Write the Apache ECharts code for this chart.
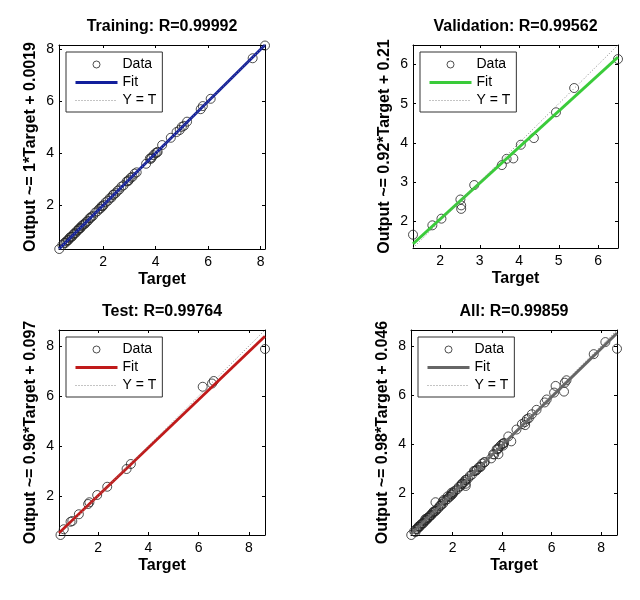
<!DOCTYPE html>
<html>
<head>
<meta charset="utf-8">
<script src="https://cdn.jsdelivr.net/npm/echarts@6/dist/echarts.min.js"></script>
<style>
html,body{margin:0;padding:0;background:#fff;}
#chart{width:640px;height:600px;}
</style>
</head>
<body>
<div id="chart"></div>
<script>
// ---------- data ----------
const trainTarget = [0.33,0.45,0.52,0.57,0.60,0.65,0.68,0.72,0.75,0.80,0.82,0.87,0.90,0.95,1.00,1.05,1.08,1.10,1.15,1.18,1.22,1.28,1.32,1.35,1.42,1.48,1.52,1.55,1.62,1.70,1.78,1.85,1.90,1.95,1.98,2.02,2.10,2.18,2.25,2.32,2.38,2.40,2.48,2.55,2.62,2.70,2.78,2.90,2.95,2.98,3.05,3.12,3.20,3.28,3.64,3.78,3.82,3.85,3.92,4.00,4.05,4.08,4.25,4.58,4.80,4.92,5.00,5.08,5.20,5.72,5.80,6.10,7.70,8.17];
const trainOutput = [0.32,0.47,0.55,0.56,0.62,0.66,0.66,0.74,0.78,0.79,0.80,0.88,0.92,0.93,1.02,1.04,1.09,1.12,1.13,1.20,1.24,1.27,1.30,1.36,1.40,1.50,1.51,1.56,1.60,1.72,1.77,1.86,1.88,1.97,1.96,2.01,2.12,2.17,2.27,2.30,2.40,2.42,2.47,2.56,2.61,2.72,2.77,2.92,2.93,2.97,3.06,3.10,3.22,3.27,3.60,3.80,3.79,3.84,3.93,4.01,4.03,4.06,4.32,4.60,4.82,4.90,5.02,5.06,5.22,5.70,5.82,6.10,7.66,8.15];

const valTarget = [1.31,1.80,2.03,2.51,2.53,2.53,2.86,3.56,3.68,3.85,4.04,4.37,4.93,5.39,6.50];
const valOutput = [1.65,1.89,2.06,2.55,2.40,2.31,2.92,3.43,3.59,3.60,3.95,4.12,4.78,5.40,6.14];

const testTarget = [0.50,0.63,0.90,0.97,1.23,1.60,1.65,1.96,2.36,3.13,3.30,6.16,6.53,6.60,8.64];
const testOutput = [0.44,0.67,0.97,1.00,1.27,1.68,1.75,2.04,2.37,3.08,3.28,6.37,6.50,6.60,7.88];

const allTarget = trainTarget.concat(valTarget, testTarget);
const allOutput = trainOutput.concat(valOutput, testOutput);

// axis limits [min, max]
const trainLim = [0.32, 8.17];
const valLim = [1.31, 6.50];
const testLim = [0.44, 8.64];
const allLim = [0.32, 8.64];

// regression fit [slope, intercept]
const trainFit = [1, 0.0019];
const valFit = [0.92, 0.21];
const testFit = [0.96, 0.097];
const allFit = [0.98, 0.046];

// tick labels
const trainTicks = [2, 4, 6, 8];
const valTicks = [2, 3, 4, 5, 6];
const testTicks = [2, 4, 6, 8];
const allTicks = [2, 4, 6, 8];

const titles = ['Training: R=0.99992', 'Validation: R=0.99562', 'Test: R=0.99764', 'All: R=0.99859'];
const yNames = ['Output ~= 1*Target + 0.0019', 'Output ~= 0.92*Target + 0.21', 'Output ~= 0.96*Target + 0.097', 'Output ~= 0.98*Target + 0.046'];
const xName = 'Target';
const legendNames = ['Data', 'Fit', 'Y = T'];

// ---------- styling / layout ----------
const FONT = '"Liberation Sans", Arial, Helvetica, sans-serif';
const fitColors = ['#121F9C', '#3ACB3A', '#C01A1A', '#666666'];
const grids = [
  {left: 59, top: 45, width: 206, height: 204},
  {left: 413, top: 45, width: 205, height: 203},
  {left: 59, top: 330, width: 206, height: 205},
  {left: 411, top: 330, width: 206, height: 205}
];

const panels = [
  {key: 'tr', t: trainTarget, o: trainOutput, lim: trainLim, fit: trainFit, ticks: trainTicks},
  {key: 'va', t: valTarget, o: valOutput, lim: valLim, fit: valFit, ticks: valTicks},
  {key: 'te', t: testTarget, o: testOutput, lim: testLim, fit: testFit, ticks: testTicks},
  {key: 'al', t: allTarget, o: allOutput, lim: allLim, fit: allFit, ticks: allTicks}
];

const axisLineStyle = {color: '#000', width: 1};
const xAxes = [], yAxes = [], series = [], legends = [];

panels.forEach((p, i) => {
  const g = grids[i];
  const common = {
    gridIndex: i, type: 'value', min: p.lim[0], max: p.lim[1],
    axisLine: {show: true, onZero: false, lineStyle: axisLineStyle},
    axisTick: {show: true, inside: true, length: 3, customValues: p.ticks, lineStyle: axisLineStyle},
    splitLine: {show: false}
  };
  xAxes.push(Object.assign({}, common, {
    position: 'bottom',
    axisLabel: {show: true, customValues: p.ticks, fontFamily: FONT, fontSize: 14, color: '#000', margin: 6},
    name: xName, nameLocation: 'middle', nameGap: 23,
    nameTextStyle: {fontFamily: FONT, fontSize: 16, fontWeight: 'bold', color: '#000'}
  }));
  xAxes.push(Object.assign({}, common, {
    position: 'top',
    axisLabel: {show: false},
    name: titles[i], nameLocation: 'middle', nameGap: 10,
    nameTextStyle: {fontFamily: FONT, fontSize: 16, fontWeight: 'bold', color: '#000'}
  }));
  yAxes.push(Object.assign({}, common, {
    position: 'left',
    axisLabel: {show: true, customValues: p.ticks, fontFamily: FONT, fontSize: 14, color: '#000', margin: 5},
    name: yNames[i], nameLocation: 'middle', nameGap: 20, nameRotate: 90,
    nameTextStyle: {fontFamily: FONT, fontSize: 16, fontWeight: 'bold', color: '#000'}
  }));
  yAxes.push(Object.assign({}, common, {
    position: 'right',
    axisLabel: {show: false}
  }));

  const xi = 2 * i, yi = 2 * i;
  const nData = legendNames[0] + '#' + p.key;
  const nFit = legendNames[1] + '#' + p.key;
  const nYT = legendNames[2] + '#' + p.key;

  series.push({
    type: 'scatter', name: nData, xAxisIndex: xi, yAxisIndex: yi,
    data: p.t.map((x, j) => [x, p.o[j]]),
    symbol: 'circle', symbolSize: 9,
    itemStyle: {color: 'rgba(0,0,0,0)', borderColor: '#222', borderWidth: 1},
    z: 2, silent: true
  });
  series.push({
    type: 'line', name: nFit, xAxisIndex: xi, yAxisIndex: yi,
    data: p.lim.map(x => [x, p.fit[0] * x + p.fit[1]]),
    symbol: 'none', showSymbol: false,
    lineStyle: {color: fitColors[i], width: 2.8},
    itemStyle: {color: fitColors[i]},
    z: 3, silent: true
  });
  series.push({
    type: 'line', name: nYT, xAxisIndex: xi, yAxisIndex: yi,
    data: p.lim.map(x => [x, x]),
    symbol: 'none', showSymbol: false,
    lineStyle: {color: '#888', width: 1, type: [1, 2]},
    itemStyle: {color: '#888'},
    z: 4, silent: true
  });

  legends.push({
    left: g.left + 7, top: g.top + 7, orient: 'vertical',
    backgroundColor: '#fff', borderColor: '#333', borderWidth: 1, borderRadius: 0,
    padding: [5, 6, 4, 8], itemWidth: 42, itemHeight: 7, itemGap: 3,
    selectedMode: false, z: 10,
    textStyle: {fontFamily: FONT, fontSize: 14, color: '#000', lineHeight: 15},
    formatter: n => n.split('#')[0],
    data: [
      {name: nData, icon: 'circle', itemStyle: {color: 'rgba(0,0,0,0)', borderColor: '#222', borderWidth: 1}},
      {name: nFit, itemStyle: {color: 'rgba(0,0,0,0)', borderWidth: 0}, lineStyle: {color: fitColors[i], width: 3, type: 'solid'}},
      {name: nYT, itemStyle: {color: 'rgba(0,0,0,0)', borderWidth: 0}, lineStyle: {color: '#888', width: 1, type: [1, 2]}}
    ]
  });
});

const chart = echarts.init(document.getElementById('chart'), null, {renderer: 'canvas'});
chart.setOption({
  backgroundColor: '#fff',
  animation: false,
  grid: grids,
  xAxis: xAxes,
  yAxis: yAxes,
  legend: legends,
  series: series
});
</script>
</body>
</html>
